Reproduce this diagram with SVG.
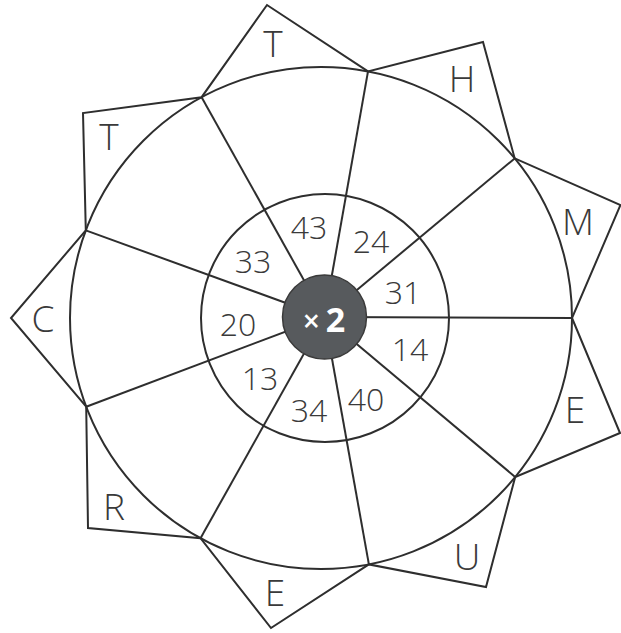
<svg xmlns="http://www.w3.org/2000/svg" width="621" height="633" viewBox="0 0 621 633">
<style>
.ln{fill:none;stroke:#2e2e2e;stroke-width:2;stroke-linejoin:miter}
.let{font-family:"Open Sans","Liberation Sans",sans-serif;font-weight:300;font-size:37px;fill:#3a3a3a;text-anchor:middle}
.num{font-family:"Open Sans","Liberation Sans",sans-serif;font-weight:300;font-size:32px;fill:#3a3a3a;text-anchor:middle}
.op{font-family:"Open Sans","Liberation Sans",sans-serif;font-weight:700;fill:#ffffff;text-anchor:middle}
</style>
<rect width="621" height="633" fill="#ffffff"/>
<g id="star">
<polygon class="ln" points="572,318 620,433 515.2,477 486,587 368.9,564.4 271,628 200.5,538.2 88,528 86.2,406.7 11,318 85.8,230.4 83,113 201.6,97.2 267,5 368,71.4 483,42 514.7,158.4 620.5,205"/>
</g>
<g id="outer-circle">
<circle class="ln" cx="321" cy="318" r="251"/>
</g>
<g id="connectors">
<line class="ln" x1="324.5" y1="317" x2="572" y2="318"/>
<line class="ln" x1="324.5" y1="317" x2="515.2" y2="477"/>
<line class="ln" x1="324.5" y1="317" x2="368.9" y2="564.4"/>
<line class="ln" x1="324.5" y1="317" x2="200.5" y2="538.2"/>
<line class="ln" x1="324.5" y1="317" x2="86.2" y2="406.7"/>
<line class="ln" x1="324.5" y1="317" x2="85.8" y2="230.4"/>
<line class="ln" x1="324.5" y1="317" x2="201.6" y2="97.2"/>
<line class="ln" x1="324.5" y1="317" x2="368" y2="71.4"/>
<line class="ln" x1="324.5" y1="317" x2="514.7" y2="158.4"/>
</g>
<g id="inner-circle">
<circle class="ln" cx="325" cy="318" r="124"/>
</g>
<g id="center">
<circle cx="324.5" cy="317" r="42" fill="#575a5d" stroke="#3a3a3a" stroke-width="1.5"/>
<text class="op" x="324" y="332"><tspan font-size="30px" font-weight="600">×</tspan><tspan font-size="34px" dx="6">2</tspan></text>
</g>
<g id="numbers">
<text class="num" x="309" y="238.5">43</text>
<text class="num" x="371" y="252.5">24</text>
<text class="num" x="253" y="272.5">33</text>
<text class="num" x="403" y="303.5">31</text>
<text class="num" x="238" y="335.5">20</text>
<text class="num" x="410" y="360.5">14</text>
<text class="num" x="260" y="389.5">13</text>
<text class="num" x="309" y="421.5">34</text>
<text class="num" x="366" y="410.5">40</text>
</g>
<g id="letters">
<text class="let" x="273" y="57">T</text>
<text class="let" x="462" y="92">H</text>
<text class="let" x="578" y="235">M</text>
<text class="let" x="575" y="423">E</text>
<text class="let" x="467" y="570">U</text>
<text class="let" x="275" y="606">E</text>
<text class="let" x="114" y="520">R</text>
<text class="let" x="43" y="332">C</text>
<text class="let" x="109" y="150">T</text>
</g>
</svg>
